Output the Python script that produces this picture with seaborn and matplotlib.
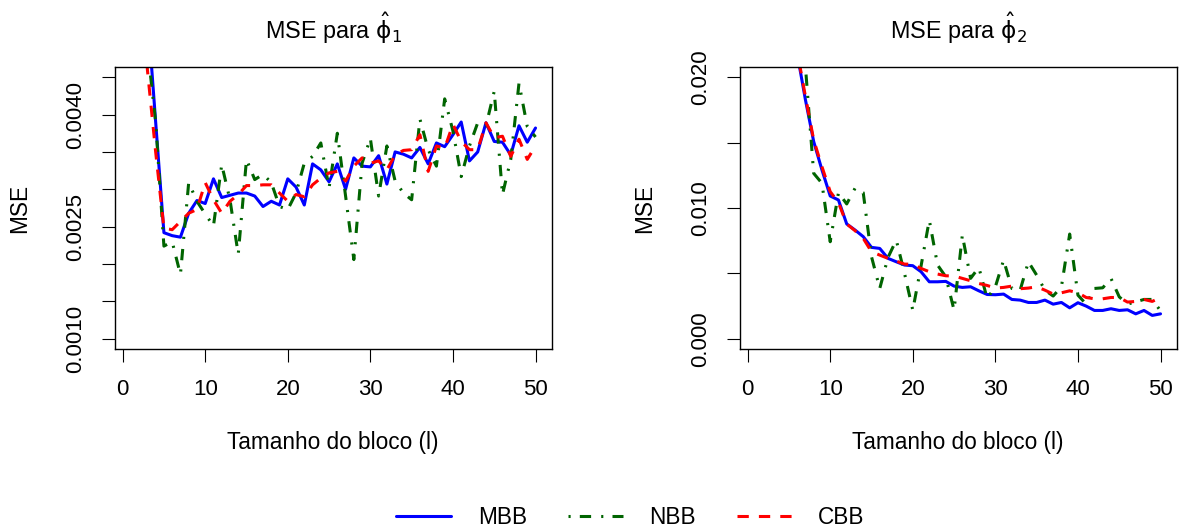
import numpy as np
import pandas as pd
import matplotlib
matplotlib.use("Agg")
import matplotlib.pyplot as plt
from matplotlib.lines import Line2D
import seaborn as sns

# ---------------- data ----------------
bloco = list(range(1, 51))

mbb_phi1 = [0.0120, 0.0075, 0.0054, 0.0039, 0.00242, 0.00238, 0.00236, 0.00268, 0.00285, 0.00281,
            0.00314, 0.00289, 0.00292, 0.00295, 0.00295, 0.00291, 0.00277, 0.00284, 0.00279, 0.00314,
            0.00303, 0.00279, 0.00334, 0.00326, 0.00310, 0.00334, 0.00300, 0.00342, 0.00331, 0.00330,
            0.00345, 0.00307, 0.00350, 0.00347, 0.00342, 0.00356, 0.00334, 0.00362, 0.00357, 0.00373,
            0.00390, 0.00338, 0.00350, 0.00389, 0.00364, 0.00363, 0.00346, 0.00385, 0.00363, 0.00382]
nbb_phi1 = [0.0130, 0.0080, 0.0049, 0.0039, 0.00224, 0.00230, 0.00186, 0.00309, 0.00284, 0.00267,
            0.00251, 0.00333, 0.00286, 0.00213, 0.00340, 0.00313, 0.00320, 0.00309, 0.00277, 0.00273,
            0.00295, 0.00335, 0.00344, 0.00362, 0.00302, 0.00375, 0.00291, 0.00206, 0.00335, 0.00368,
            0.00291, 0.00358, 0.00311, 0.00295, 0.00286, 0.00394, 0.00353, 0.00331, 0.00421, 0.00378,
            0.00317, 0.00358, 0.00389, 0.00385, 0.00431, 0.00293, 0.00340, 0.00442, 0.00384, 0.00370]
cbb_phi1 = [0.0110, 0.0070, 0.0046, 0.0035, 0.00248, 0.00246, 0.00257, 0.00268, 0.00273, 0.00309,
            0.00286, 0.00268, 0.00284, 0.00293, 0.00305, 0.00305, 0.00306, 0.00306, 0.00295, 0.00284,
            0.00293, 0.00290, 0.00306, 0.00315, 0.00322, 0.00324, 0.00311, 0.00331, 0.00342, 0.00335,
            0.00338, 0.00326, 0.00346, 0.00352, 0.00353, 0.00373, 0.00324, 0.00358, 0.00355, 0.00387,
            0.00364, 0.00353, 0.00353, 0.00389, 0.00369, 0.00371, 0.00344, 0.00367, 0.00340, 0.00358]

mbb_phi2 = [0.080, 0.055, 0.040, 0.031, 0.0255, 0.0218, 0.01827, 0.01508, 0.01291, 0.01092,
            0.01061, 0.00878, 0.00832, 0.00781, 0.00699, 0.00691, 0.00615, 0.00589, 0.00564, 0.00559,
            0.00513, 0.00436, 0.00436, 0.00439, 0.00403, 0.00393, 0.00398, 0.00367, 0.00339, 0.00337,
            0.00342, 0.00301, 0.00296, 0.00278, 0.00278, 0.00296, 0.00265, 0.00278, 0.00237, 0.00276,
            0.00250, 0.00217, 0.00217, 0.00230, 0.00217, 0.00222, 0.00191, 0.00217, 0.00179, 0.00191]
nbb_phi2 = [0.085, 0.060, 0.045, 0.034, 0.028, 0.024, 0.0208, 0.01265, 0.01189, 0.00742,
            0.01117, 0.01031, 0.01150, 0.01117, 0.00628, 0.00385, 0.00622, 0.00755, 0.00500, 0.00219,
            0.00556, 0.00908, 0.00564, 0.00474, 0.00219, 0.00793, 0.00462, 0.00546, 0.00309, 0.00398,
            0.00602, 0.00385, 0.00372, 0.00589, 0.00487, 0.00372, 0.00327, 0.00398, 0.00801, 0.00334,
            0.00265, 0.00385, 0.00390, 0.00462, 0.00321, 0.00265, 0.00283, 0.00301, 0.00301, 0.00214]
cbb_phi2 = [0.078, 0.054, 0.039, 0.031, 0.0255, 0.0220, 0.01852, 0.01520, 0.01316, 0.01125,
            0.01041, 0.00878, 0.00827, 0.00768, 0.00666, 0.00640, 0.00615, 0.00594, 0.00571, 0.00571,
            0.00538, 0.00513, 0.00495, 0.00482, 0.00480, 0.00462, 0.00444, 0.00423, 0.00408, 0.00388,
            0.00393, 0.00403, 0.00383, 0.00388, 0.00398, 0.00372, 0.00342, 0.00352, 0.00367, 0.00352,
            0.00316, 0.00306, 0.00306, 0.00316, 0.00316, 0.00281, 0.00286, 0.00301, 0.00286, 0.00316]

metodos = ["MBB", "NBB", "CBB"]
cores = {"MBB": "#0000FF", "NBB": "#006400", "CBB": "#FF0000"}
tracos = {"MBB": "", "NBB": (0.7, 3.0, 3.7, 3.3), "CBB": (3.7, 3.3)}

xticks = [0, 10, 20, 30, 40, 50]
yticks1 = [0.0010, 0.0015, 0.0020, 0.0025, 0.0030, 0.0035, 0.0040, 0.0045]
ylabels1 = ["0.0010", "", "", "0.0025", "", "", "0.0040", ""]
yticks2 = [0.000, 0.005, 0.010, 0.015, 0.020]
ylabels2 = ["0.000", "", "0.010", "", "0.020"]

titulos = [r"MSE para $\hat{\mathrm{\phi}}_1$", r"MSE para $\hat{\mathrm{\phi}}_2$"]

# ---------------- style ----------------
sns.set_style("white")
plt.rcParams["font.family"] = ["Liberation Sans", "DejaVu Sans"]
plt.rcParams["mathtext.fontset"] = "dejavusans"
plt.rcParams["text.color"] = "black"
plt.rcParams["axes.labelcolor"] = "black"
plt.rcParams["xtick.color"] = "black"
plt.rcParams["ytick.color"] = "black"

def longo(mbb, nbb, cbb):
    frames = []
    for nome, vals in zip(metodos, [mbb, nbb, cbb]):
        frames.append(pd.DataFrame({"bloco": bloco, "mse": vals, "metodo": nome}))
    return pd.concat(frames, ignore_index=True)

df1 = longo(mbb_phi1, nbb_phi1, cbb_phi1)
df2 = longo(mbb_phi2, nbb_phi2, cbb_phi2)

W, H = 1181, 532
fig = plt.figure(figsize=(W / 100, H / 100), dpi=100)
ax1 = fig.add_axes([114.7 / W, 1 - 349.3 / H, 437 / W, 282.6 / H])
ax2 = fig.add_axes([739.7 / W, 1 - 349.3 / H, 437 / W, 282.6 / H])

FS = 16
for ax, df, ylim, yt, yl, tit in [
    (ax1, df1, (0.0010, 0.0045), yticks1, ylabels1, titulos[0]),
    (ax2, df2, (0.000, 0.020), yticks2, ylabels2, titulos[1]),
]:
    sns.lineplot(data=df, x="bloco", y="mse", hue="metodo", style="metodo",
                 palette=cores, dashes=tracos, hue_order=metodos, style_order=metodos,
                 linewidth=2.2, legend=False, ax=ax, estimator=None)
    span_x = 50 - 1
    ax.set_xlim(1 - 0.04 * span_x, 50 + 0.04 * span_x)
    span_y = ylim[1] - ylim[0]
    ax.set_ylim(ylim[0] - 0.04 * span_y, ylim[1] + 0.04 * span_y)
    ax.set_xticks(xticks)
    ax.set_xticklabels([str(t) for t in xticks], fontsize=FS, color="black")
    ax.set_yticks(yt)
    ax.set_yticklabels(yl, fontsize=FS, rotation=90, va="center", color="black")
    ax.tick_params(axis="both", direction="out", length=9.4, width=0.8, color="black",
                   bottom=True, left=True, top=False, right=False)
    ax.tick_params(axis="x", pad=12)
    ax.tick_params(axis="y", pad=11)
    for s in ax.spines.values():
        s.set_visible(True)
        s.set_color("black")
        s.set_linewidth(1.0)
    ax.set_xlabel("Tamanho do bloco (l)", fontsize=16.3, color="black")
    ax.xaxis.set_label_coords(0.5, (349.3 - 442) / 282.6)
    ax.xaxis.label.set_va("center")
    ax.set_ylabel("MSE", fontsize=16.3, color="black")
    ax.yaxis.set_label_coords(-94.7 / 437, 0.5)
    ax.yaxis.label.set_va("center")
    ax.set_title(tit, fontsize=16.8, pad=20, color="black")
    ax.grid(False)

handles = [Line2D([0], [0], color=cores[m], linewidth=2.2,
                  linestyle="-" if tracos[m] == "" else (0, tracos[m])) for m in metodos]
leg = fig.legend(handles, metodos, loc="center", bbox_to_anchor=(630.6 / W, 1 - 517.7 / H),
                 ncol=3, frameon=False, fontsize=16.3, handlelength=2.43, handletextpad=1.18,
                 columnspacing=1.79)
for t in leg.get_texts():
    t.set_color("black")

fig.savefig("out.png", dpi=100)
